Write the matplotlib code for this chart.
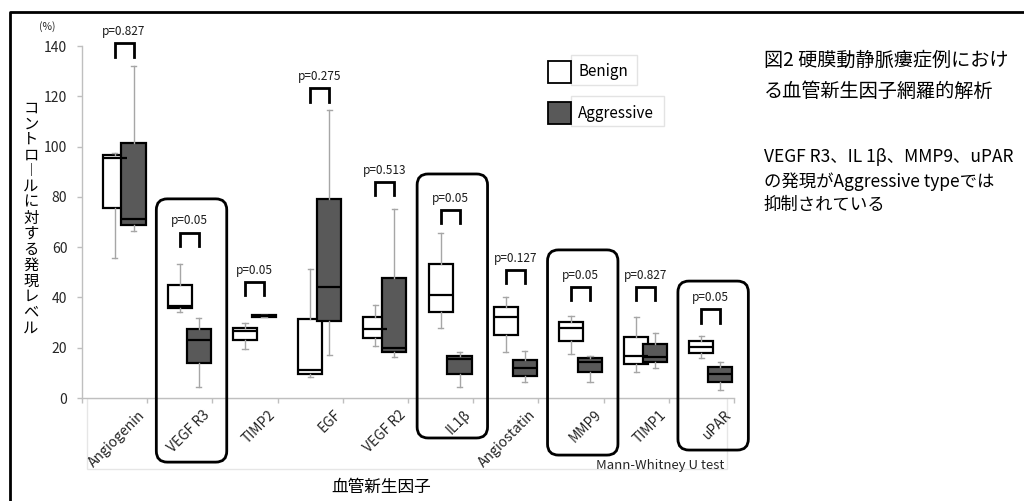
import matplotlib
matplotlib.use('Agg')
import matplotlib.pyplot as plt
from matplotlib.patches import Rectangle, FancyBboxPatch
from matplotlib.lines import Line2D
import matplotlib.transforms as mtransforms

plt.rcParams['font.family'] = ['Noto Sans CJK JP', 'DejaVu Sans']

# ---------------- data ----------------
categories = ['Angiogenin', 'VEGF R3', 'TIMP2', 'EGF', 'VEGF R2', 'IL1β',
              'Angiostatin', 'MMP9', 'TIMP1', 'uPAR']

benign_min = [55.5, 34.3, 19.5, 8.2, 20.8, 28.0, 18.2, 17.5, 10.3, 15.8]
benign_q1 = [75.5, 35.7, 23.1, 9.5, 23.7, 34.3, 25.1, 22.8, 13.5, 17.9]
benign_med = [95.5, 36.6, 26.5, 11.1, 27.3, 41.0, 32.3, 28.0, 16.8, 20.3]
benign_q3 = [96.5, 45.0, 28.0, 31.3, 32.1, 53.3, 36.3, 30.4, 24.4, 22.5]
benign_max = [97.5, 53.2, 29.7, 51.4, 36.9, 65.5, 40.0, 32.5, 32.1, 24.7]

aggr_min = [66.5, 4.5, 32.2, 17.1, 16.4, 4.5, 6.2, 6.2, 11.8, 3.3]
aggr_q1 = [68.8, 13.8, 32.4, 30.6, 18.2, 9.5, 8.9, 10.2, 14.2, 6.5]
aggr_med = [71.2, 23.1, 32.6, 44.0, 20.0, 15.4, 11.8, 14.4, 16.4, 9.5]
aggr_q3 = [101.3, 27.3, 32.9, 79.2, 47.6, 16.7, 15.1, 15.8, 21.4, 12.2]
aggr_max = [131.9, 31.7, 33.1, 114.6, 75.0, 18.2, 18.8, 16.8, 26.0, 14.3]

p_values = ['p=0.827', 'p=0.05', 'p=0.05', 'p=0.275', 'p=0.513', 'p=0.05',
            'p=0.127', 'p=0.05', 'p=0.827', 'p=0.05']
bracket_top = [141.0, 65.8, 46.3, 123.2, 86.0, 74.8, 51.0, 44.3, 44.3, 35.3]

highlighted = ['VEGF R3', 'IL1β', 'MMP9', 'uPAR']
y_ticks = [0, 20, 40, 60, 80, 100, 120, 140]

series_names = ['Benign', 'Aggressive']
ylabel_text = 'コントロールに対する発現レベル'
xlabel_text = '血管新生因子'
title_text = '図2 硬膜動静脈瘻症例におけ\nる血管新生因子網羅的解析'
note_text = 'VEGF R3、IL 1β、MMP9、uPAR\nの発現がAggressive typeでは\n抑制されている'
test_text = 'Mann-Whitney U test'

# ---------------- layout ----------------
W, H = 1024, 501
fig = plt.figure(figsize=(W / 100, H / 100), dpi=100)
fig.patch.set_facecolor('white')

def fx(x):
    return x / W

def fy(y):
    return 1 - y / H

ax = fig.add_axes([fx(82), fy(398), (734 - 82) / W, (398 - 46) / H])
ax.set_xlim(-0.5, len(categories) - 0.5)
ax.set_ylim(0, 140)

OFFSET = 0.29
BW = 0.37
pos_b = [i for i in range(len(categories))]
pos_a = [i + OFFSET for i in range(len(categories))]

def stats(mn, q1, md, q3, mx):
    return [dict(whislo=a, q1=b, med=c, q3=d, whishi=e, fliers=[])
            for a, b, c, d, e in zip(mn, q1, md, q3, mx)]

common = dict(widths=BW, patch_artist=True, showfliers=False,
              medianprops=dict(color='black', linewidth=1.6),
              whiskerprops=dict(color='#A6A6A6', linewidth=1.0),
              capprops=dict(color='#A6A6A6', linewidth=1.0),
              capwidths=0.08, manage_ticks=False)
ax.bxp(stats(benign_min, benign_q1, benign_med, benign_q3, benign_max),
       positions=pos_b,
       boxprops=dict(facecolor='white', edgecolor='black', linewidth=1.6),
       **common)
ax.bxp(stats(aggr_min, aggr_q1, aggr_med, aggr_q3, aggr_max),
       positions=pos_a,
       boxprops=dict(facecolor='#595959', edgecolor='black', linewidth=1.6),
       **common)

# brackets & p-values
LEG = 5.3
for i, (top, p) in enumerate(zip(bracket_top, p_values)):
    ax.plot([pos_b[i], pos_b[i], pos_a[i], pos_a[i]],
            [top - LEG, top, top, top - LEG], color='black', lw=2,
            clip_on=False, solid_joinstyle='miter')
    ax.text((pos_b[i] + pos_a[i]) / 2, top + 4.6, p, ha='center',
            va='center', fontsize=8.5, color='#1a1a1a', clip_on=False)

# axes styling
for s in ['top', 'right']:
    ax.spines[s].set_visible(False)
for s in ['left', 'bottom']:
    ax.spines[s].set_color('#BFBFBF')
    ax.spines[s].set_linewidth(1.0)
ax.set_yticks(y_ticks)
ax.tick_params(axis='y', direction='out', length=3.6, width=1,
               color='#BFBFBF', labelsize=10, labelcolor='#262626', pad=7)
ax.set_xticks(range(len(categories)))
ax.set_xticks([i - 0.5 for i in range(len(categories) + 1)], minor=True)
ax.tick_params(axis='x', which='major', length=0, pad=10.5,
               labelsize=10, labelcolor='#262626')
ax.tick_params(axis='x', which='minor', direction='out', length=3.6,
               width=1, color='#BFBFBF')
ax.set_xticklabels(categories, rotation=45, ha='right', va='center',
                   rotation_mode='anchor')
shift = mtransforms.ScaledTranslation(28 / 100, 0, fig.dpi_scale_trans)
for lab in ax.get_xticklabels():
    lab.set_transform(lab.get_transform() + shift)

# highlight rounded boxes (category-anchored)
hl_top = {'VEGF R3': 79.2, 'IL1β': 89.1, 'MMP9': 58.9, 'uPAR': 46.5}
hl_bot = {'VEGF R3': -25.5, 'IL1β': -15.9, 'MMP9': -22.7, 'uPAR': -20.7}
px_x = 652 / 10.0
px_y = 352 / 140.0
r_px = 11
for name in highlighted:
    i = categories.index(name)
    x0, x1 = i - 0.36, i + 0.72
    y0, y1 = hl_bot[name], hl_top[name]
    box = FancyBboxPatch((x0, y0), x1 - x0, y1 - y0,
                         boxstyle=f'round,pad=0,rounding_size={r_px / px_x}',
                         mutation_aspect=px_x / px_y,
                         fill=False, edgecolor='black', linewidth=2,
                         clip_on=False, transform=ax.transData, zorder=5)
    ax.add_patch(box)

# (%) label
ax.text(-1.04, 147.6, '(%)', ha='center', va='center', fontsize=7.5,
        color='#262626', clip_on=False)

# y label (vertical writing, upright characters)
vert = '\n'.join(ylabel_text.replace('ー', '︱'))
fig.text(fx(31), fy(218), vert, ha='center', va='center', fontsize=11,
         linespacing=0.9, color='black')

# x label
fig.text(fx(381), fy(487), xlabel_text, ha='center', va='center',
         fontsize=12, color='black')

# test note
fig.text(fx(724), fy(466), test_text, ha='right', va='center',
         fontsize=9.5, color='#262626')

# faint plot-area frame under the axis
fig.add_artist(Rectangle((fx(87), fy(469)), (727 - 87) / W, (469 - 398) / H,
                         transform=fig.transFigure, fill=False,
                         edgecolor='#E6E6E6', linewidth=1, zorder=0))

# legend (manual, Excel-style)
leg_colors = ['white', '#595959']
leg_sq_y = [61, 102]
leg_box_w = [66, 93]
for name, col, yy, bw in zip(series_names, leg_colors, leg_sq_y, leg_box_w):
    fig.add_artist(Rectangle((fx(571), fy(yy + 24)), bw / W, 30 / H,
                             transform=fig.transFigure, facecolor='white',
                             edgecolor='#E3E3E3', linewidth=1))
    fig.add_artist(Rectangle((fx(548), fy(yy + 22)), 23 / W, 22 / H,
                             transform=fig.transFigure, facecolor=col,
                             edgecolor='black', linewidth=1.3))
    fig.text(fx(578), fy(yy + 11), name, ha='left', va='center',
             fontsize=11, color='black')

# right-hand text
fig.text(fx(764), fy(50), title_text, ha='left', va='top', fontsize=13.8,
         linespacing=1.62, color='black')
fig.text(fx(764), fy(148), note_text, ha='left', va='top', fontsize=12.5,
         linespacing=1.4, color='black')

# outer frame (left & top visible)
fig.add_artist(Line2D([fx(10), fx(10), fx(1030)], [fy(510), fy(12), fy(12)],
                      transform=fig.transFigure, color='black', lw=2))

fig.savefig('out.png', dpi=100, facecolor='white')
